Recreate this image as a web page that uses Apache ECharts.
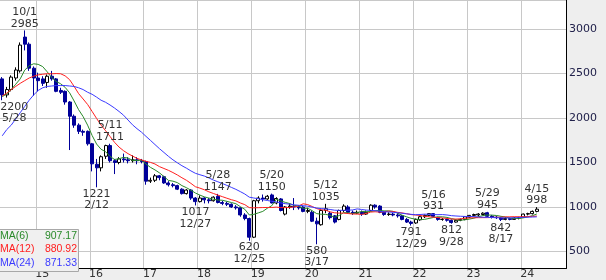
<!DOCTYPE html>
<html><head><meta charset="utf-8">
<script src="https://cdn.jsdelivr.net/npm/echarts@6/dist/echarts.min.js"></script>
<style>html,body{margin:0;padding:0;background:#eeeeee;} #c{width:606px;height:280px;}</style>
</head><body><div id="c"></div>
<script>
// Monthly candles, May 2014 .. Apr 2024
const opens = [
 2440,2260,2320,2450,2530,2910,2830,2560,
 2450,2440,2400,2470,2440,2310,2300,2180,2020,1920,1850,1850,
 1710,1480,1440,1570,1690,1520,1500,1540,1530,1520,1530,1520,
 1510,1290,1300,1350,1340,1270,1250,1240,1200,1150,1190,1100,
 1060,1100,1080,1070,1120,1050,1040,1030,1000,990,910,870,
 660,1070,1100,1090,1135,1045,1090,920,1000,1010,1000,1000,
 950,940,840,800,960,930,900,860,960,1000,940,930,
 940,920,960,1020,1010,940,915,920,910,900,860,830,
 820,855,890,905,925,880,860,860,850,830,850,860,
 885,905,910,915,935,895,885,875,860,870,860,875,
 885,920,925,950];
const closes = [
 2260,2320,2460,2540,2820,2830,2560,2450,
 2420,2390,2470,2440,2300,2290,2180,2020,1920,1850,1840,1710,
 1485,1440,1565,1690,1520,1500,1540,1530,1520,1530,1520,1510,
 1290,1300,1350,1330,1270,1250,1240,1200,1150,1190,1100,1060,
 1100,1080,1070,1110,1050,1040,1030,1000,990,910,870,660,
 1070,1100,1090,1120,1045,1095,960,1000,1010,1000,990,950,
 960,840,810,960,980,880,830,960,1010,940,930,940,
 920,940,1020,1000,940,915,920,910,900,860,830,815,
 860,890,905,925,895,860,860,850,825,850,860,890,
 905,915,920,930,895,885,880,860,870,860,875,880,
 920,925,950,975];
const lows = [
 2200,2230,2300,2420,2510,2760,2530,2250,
 2300,2360,2340,2420,2290,2270,2150,1640,1890,1820,1800,1690,
 1400,1221,1400,1540,1500,1370,1480,1500,1490,1500,1480,1490,
 1250,1270,1280,1300,1260,1230,1220,1190,1140,1140,1080,1017,
 1050,1040,1040,1060,1040,1020,1010,990,970,890,850,620,
 650,1040,1060,1080,1040,1030,950,905,980,965,970,940,
 930,830,580,790,930,860,815,850,940,930,910,920,
 900,910,950,980,930,900,900,895,880,850,820,791,
 810,845,875,895,885,845,845,835,812,825,840,850,
 875,895,890,905,885,870,865,842,850,850,855,860,
 880,905,915,940];
const highs = [
 2460,2350,2480,2570,2850,2985,2850,2580,
 2510,2470,2490,2530,2450,2340,2310,2190,2040,1940,1870,1860,
 1720,1540,1580,1700,1711,1540,1560,1600,1560,1580,1560,1540,
 1520,1330,1370,1360,1350,1290,1270,1250,1210,1200,1200,1110,
 1130,1110,1100,1120,1147,1070,1060,1040,1020,1000,930,880,
 1080,1120,1140,1135,1150,1110,1100,1010,1040,1100,1020,1010,
 990,960,880,970,1035,950,910,970,1030,1020,960,960,
 960,960,1030,1030,1020,950,940,935,930,910,875,845,
 870,900,915,930,931,890,875,870,860,860,870,895,
 910,925,930,940,945,910,900,890,885,880,885,890,
 925,935,960,998];
const ma6Head = [2240,2270,2320,2380,2440];
const ma12Head = [2248,2280,2320,2355,2390,2420,2450,2470,2485,2492,2498];
const ma24Head = [1800,1870,1920,1990,2060,2130,2200,2260,2310,2340,2355,2360,2365,2365,2365,2360,2355,2340,2320,2290,2267,2235,2200];
// High / low annotations
const noteIdx   = [0, 5, 21, 24, 43, 48, 55, 60, 70, 72, 91, 96, 100, 108, 111, 119];
const noteKind  = ['L','H','L','H','L','H','L','H','L','H','L','H','L','H','L','H'];
const noteDate  = ['5/28','10/1','2/12','5/11','12/27','5/28','12/25','5/20','3/17','5/12','12/29','5/16','9/28','5/29','8/17','4/15'];
const yearTicks = ['15','16','17','18','19','20','21','22','23','24'];
const priceTicks = [500,1000,1500,2000,2500,3000];
const legendNames  = ['MA(6)','MA(12)','MA(24)'];
const legendValues = ['907.17','880.92','871.33'];
const maColors = ['#2a8a2a','#ff2020','#3a3aff'];

const months = [];
for (let y = 2014; y <= 2024; y++) for (let m = 1; m <= 12; m++) {
  if ((y === 2014 && m < 5) || (y === 2024 && m > 10)) continue;
  months.push(y + '-' + String(m).padStart(2, '0'));
}
function movingAvg(n, head) {
  return closes.map((c, i) => {
    if (i < head.length) return head[i];
    let s = 0; for (let k = i - n + 1; k <= i; k++) s += closes[k];
    return +(s / n).toFixed(2);
  });
}
const maData = [movingAvg(6, ma6Head), movingAvg(12, ma12Head), movingAvg(24, ma24Head)];
const isJan = (idx, val) => val.slice(5) === '01';

const markData = noteIdx.map((i, k) => {
  const hi = noteKind[k] === 'H';
  const v = hi ? highs[i] : lows[i];
  return {
    coord: [months[i], v],
    label: {
      position: hi ? 'top' : 'bottom',
      formatter: hi ? noteDate[k] + '\n' + v : v + '\n' + noteDate[k],
      offset: i === 0 ? [12, 0] : [0, 0]
    }
  };
});
const rowY = [236, 249.5, 263];

const chart = echarts.init(document.getElementById('c'), null, {renderer: 'canvas'});
chart.setOption({
  animation: false,
  backgroundColor: '#eeeeee',
  grid: {left: -2.5, right: 40, top: 0, bottom: 9.5, show: true, backgroundColor: '#ffffff', borderWidth: 0},
  xAxis: {
    type: 'category', data: months, boundaryGap: true,
    axisLine: {show: true, lineStyle: {color: '#000', width: 1}},
    axisTick: {show: false, interval: isJan},
    axisLabel: {
      interval: isJan, margin: 0.5, fontSize: 11, lineHeight: 11, color: '#333',
      fontFamily: 'DejaVu Sans', padding: [0, 0, 0, 8],
      formatter: v => yearTicks.find(t => t === v.slice(2, 4)) || ''
    },
    splitLine: {show: true, interval: isJan, lineStyle: {color: '#c8c8c8', width: 1}}
  },
  yAxis: {
    type: 'value', position: 'right', min: 308, max: 3327, splitNumber: 6, scale: true,
    axisLine: {show: true, lineStyle: {color: '#000', width: 1}},
    axisTick: {show: false},
    axisLabel: {margin: 3, fontSize: 11, color: '#20204a', fontFamily: 'DejaVu Sans', showMinLabel: false, showMaxLabel: false,
      formatter: v => priceTicks.includes(v) ? String(v) : ''},
    splitLine: {show: true, lineStyle: {color: '#c8c8c8', width: 1}}
  },
  series: [
    {
      type: 'candlestick', name: 'price', barWidth: 3.5, z: 2,
      data: opens.map((o, i) => [o, closes[i], lows[i], highs[i]]),
      itemStyle: {color: '#ffffff', color0: '#000099', borderColor: '#000000', borderColor0: '#000099', borderWidth: 1},
      markPoint: {
        symbol: 'circle', symbolSize: 0, silent: true,
        itemStyle: {color: 'transparent'},
        label: {show: true, color: '#333', fontSize: 11, lineHeight: 11.5, fontFamily: 'DejaVu Sans', distance: 1},
        data: markData
      }
    },
    ...maData.map((d, k) => ({
      type: 'line', name: legendNames[k], data: d, showSymbol: false, z: 3,
      lineStyle: {color: maColors[k], width: 1}, itemStyle: {color: maColors[k]}
    }))
  ],
  graphic: [
    {type: 'rect', z: 100, shape: {x: -1, y: 229.5, width: 79.5, height: 42}, style: {fill: '#f0f0f0', stroke: '#a8a8a8', lineWidth: 1}},
    ...legendNames.map((n, k) => ({type: 'text', z: 101, x: 0, y: rowY[k],
      style: {text: n, fill: maColors[k], font: '10.5px "Liberation Sans"', verticalAlign: 'middle', align: 'left'}})),
    ...legendValues.map((n, k) => ({type: 'text', z: 101, x: 77, y: rowY[k],
      style: {text: n, fill: maColors[k], font: '10.5px "Liberation Sans"', verticalAlign: 'middle', align: 'right'}}))
  ]
});
</script></body></html>
